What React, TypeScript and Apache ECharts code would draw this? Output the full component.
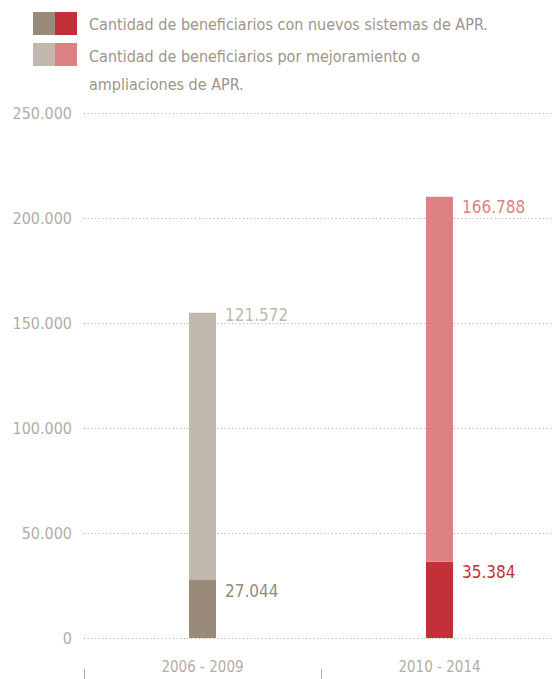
import React, { useEffect, useRef } from "react";
import * as echarts from "echarts";

// Categories (periods)
const categories = ["2006 - 2009", "2010 - 2014"];
// Bar segment heights as drawn in the picture
const nuevosValues = [27600, 36300];
const mejoraValues = [127300, 173800];
// Value labels printed next to the bars
const nuevosLabels = ["27.044", "35.384"];
const mejoraLabels = ["121.572", "166.788"];
// Y axis ticks
const yMin = 0;
const yMax = 250000;
const yInterval = 50000;
// Legend texts
const legendLine1 = "Cantidad de beneficiarios con nuevos sistemas de APR.";
const legendLine2a = "Cantidad de beneficiarios por mejoramiento o";
const legendLine2b = "ampliaciones de APR.";

const FONT = "'DejaVu Sans Condensed', sans-serif";
const DARK_BROWN = "#9a8a7a";
const LIGHT_BROWN = "#c2b8ae";
const DARK_RED = "#c4303a";
const LIGHT_RED = "#dc8285";
const TEXT = "#a09488";
const AXIS_TEXT = "#b5aca3";

const fmt = (v: number) => {
  if (v === 0) return "0";
  const s = String(Math.round(v));
  return s.replace(/\B(?=(\d{3})+(?!\d))/g, ".");
};

export default function App() {
  const ref = useRef<HTMLDivElement>(null);
  useEffect(() => {
    if (!ref.current) return;
    const chart = echarts.init(ref.current, null, { renderer: "svg" });
    const nuevosColors = [DARK_BROWN, DARK_RED];
    const mejoraColors = [LIGHT_BROWN, LIGHT_RED];
    chart.setOption({
      animation: false,
      textStyle: { fontFamily: FONT },
      grid: { left: 84, right: 2, top: 113, bottom: 41, containLabel: false },
      xAxis: [
        {
          type: "category",
          data: categories,
          axisLine: { show: false },
          axisTick: { show: false },
          axisLabel: { color: AXIS_TEXT, fontSize: 15, fontFamily: FONT, margin: 21 },
        },
        {
          type: "category",
          data: categories,
          position: "bottom",
          offset: 31,
          axisLine: { show: false },
          axisTick: { show: true, length: 10, lineStyle: { color: "#b8ada3", width: 1 } },
          axisLabel: { show: false },
        },
      ],
      yAxis: {
        type: "value",
        min: yMin,
        max: yMax,
        interval: yInterval,
        axisLine: { show: false },
        axisTick: { show: false },
        axisLabel: {
          color: AXIS_TEXT,
          fontSize: 16,
          fontFamily: FONT,
          margin: 12,
          formatter: (v: number) => fmt(v),
        },
        splitLine: { show: true, lineStyle: { type: [1, 2.7], color: "#b3a79d", width: 1 } },
      },
      series: [
        {
          type: "bar",
          stack: "total",
          barWidth: 27,
          xAxisIndex: 0,
          data: nuevosValues.map((v, i) => ({
            value: v,
            itemStyle: { color: nuevosColors[i] },
            label: {
              show: true,
              position: [36, 10.5],
              align: "left",
              verticalAlign: "middle",
              formatter: nuevosLabels[i],
              color: nuevosColors[i],
              fontSize: 17,
              fontFamily: FONT,
            },
          })),
        },
        {
          type: "bar",
          stack: "total",
          barWidth: 27,
          xAxisIndex: 0,
          data: mejoraValues.map((v, i) => ({
            value: v,
            itemStyle: { color: mejoraColors[i] },
            label: {
              show: true,
              position: [36, i === 0 ? 2 : 10],
              align: "left",
              verticalAlign: "middle",
              formatter: mejoraLabels[i],
              color: mejoraColors[i],
              fontSize: 17,
              fontFamily: FONT,
            },
          })),
        },
      ],
      graphic: [
        { type: "rect", shape: { x: 33, y: 12, width: 22, height: 23 }, style: { fill: DARK_BROWN } },
        { type: "rect", shape: { x: 55, y: 12, width: 22, height: 23 }, style: { fill: DARK_RED } },
        { type: "rect", shape: { x: 33, y: 43, width: 22, height: 23 }, style: { fill: LIGHT_BROWN } },
        { type: "rect", shape: { x: 55, y: 43, width: 22, height: 23 }, style: { fill: LIGHT_RED } },
        {
          type: "text",
          x: 89,
          y: 24,
          style: { text: legendLine1, fill: TEXT, font: `16px ${FONT}`, verticalAlign: "middle", align: "left" },
        },
        {
          type: "text",
          x: 89,
          y: 56,
          style: { text: legendLine2a, fill: TEXT, font: `16px ${FONT}`, verticalAlign: "middle", align: "left" },
        },
        {
          type: "text",
          x: 89,
          y: 84,
          style: { text: legendLine2b, fill: TEXT, font: `16px ${FONT}`, verticalAlign: "middle", align: "left" },
        },
      ],
    });
    return () => chart.dispose();
  }, []);
  return (
    <div style={{ position: "absolute", left: 0, top: 0, width: 553, height: 679, overflow: "hidden" }}>
      <div ref={ref} style={{ width: 560, height: 679 }} />
    </div>
  );
}
